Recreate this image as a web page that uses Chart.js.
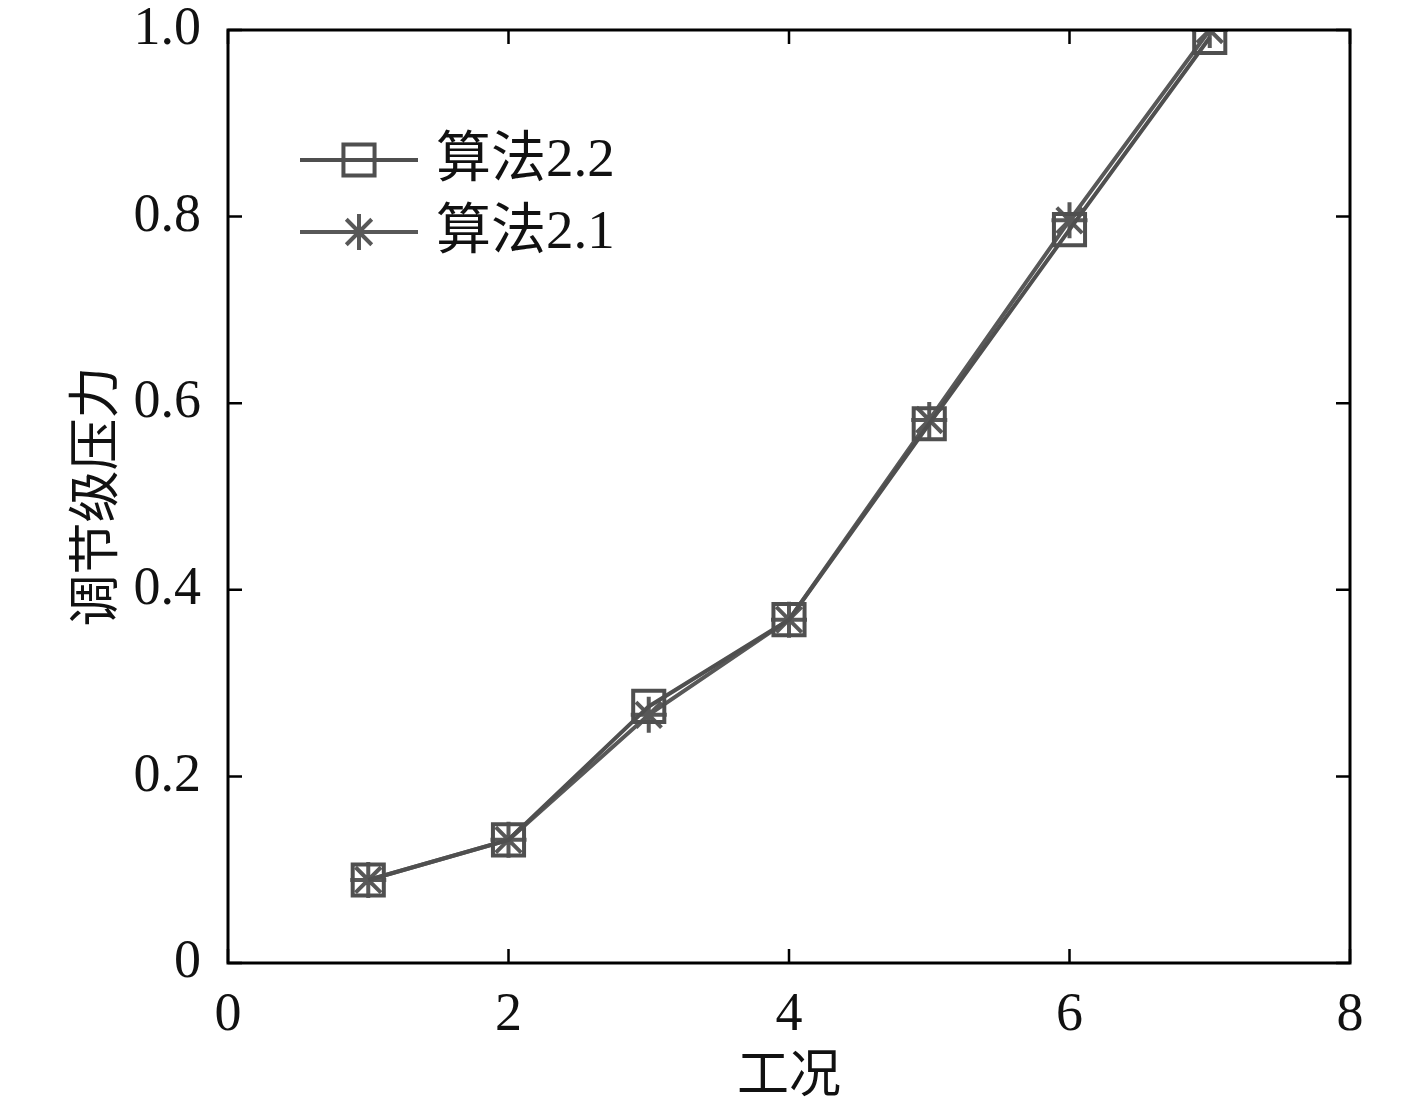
<!DOCTYPE html>
<html><head><meta charset="utf-8">
<script src="https://cdn.jsdelivr.net/npm/chart.js@4"></script>
<style>html,body{margin:0;padding:0;background:#fff}#wrap{width:1417px;height:1110px}</style>
</head><body><div id="wrap"><canvas id="c"></canvas></div>
<script>
const xValues = [1, 2, 3, 4, 5, 6, 7];
const alg22 = [0.089, 0.132, 0.275, 0.368, 0.578, 0.786, 0.992];
const alg21 = [0.089, 0.132, 0.266, 0.368, 0.582, 0.796, 1.0];
const seriesNames = ['算法2.2', '算法2.1'];
const xTicks = [0, 2, 4, 6, 8];
const yTicks = [0, 0.2, 0.4, 0.6, 0.8, 1.0];
const xTitle = '工况';
const yTitle = '调节级压力';

const FONT = '"Liberation Serif", "Noto Sans CJK SC", serif';
const GRAY = '#4f4f4f';

const frame = {
  id: 'frame',
  afterDraw(chart) {
    const {ctx, chartArea: a, scales: {x, y}} = chart;
    ctx.save();
    ctx.strokeStyle = '#000';
    ctx.lineWidth = 3;
    ctx.strokeRect(a.left, a.top, a.right - a.left, a.bottom - a.top);
    const L = 14;
    ctx.beginPath();
    xTicks.forEach(v => {
      const px = x.getPixelForValue(v);
      ctx.moveTo(px, a.bottom); ctx.lineTo(px, a.bottom - L);
      ctx.moveTo(px, a.top); ctx.lineTo(px, a.top + L);
    });
    yTicks.forEach(v => {
      const py = y.getPixelForValue(v);
      ctx.moveTo(a.left, py); ctx.lineTo(a.left + L, py);
      ctx.moveTo(a.right, py); ctx.lineTo(a.right - L, py);
    });
    ctx.lineWidth = 2.5;
    ctx.stroke();
    // legend
    const rows = [160, 232];
    chart.data.datasets.forEach((ds, i) => {
      const yy = rows[i];
      ctx.strokeStyle = ds.borderColor;
      ctx.lineWidth = ds.borderWidth;
      ctx.beginPath(); ctx.moveTo(300, yy); ctx.lineTo(418, yy); ctx.stroke();
      ctx.fillStyle = 'rgba(0,0,0,0)';
      ctx.strokeStyle = ds.pointBorderColor;
      ctx.lineWidth = ds.pointBorderWidth;
      Chart.helpers.drawPoint(ctx, {pointStyle: ds.pointStyle, radius: ds.pointRadius, borderWidth: ds.pointBorderWidth, rotation: 0}, 359, yy);
      ctx.fillStyle = '#111';
      ctx.font = '55px ' + FONT;
      ctx.textBaseline = 'middle';
      ctx.textAlign = 'left';
      ctx.fillText(ds.label, 436, yy + 2);
    });
    ctx.restore();
  }
};

new Chart(document.getElementById('c'), {
  type: 'line',
  data: {
    datasets: [
      {label: seriesNames[0], data: xValues.map((v, i) => ({x: v, y: alg22[i]})),
       borderColor: GRAY, borderWidth: 4, pointStyle: 'rect', pointRadius: 22,
       pointBorderWidth: 4, pointBorderColor: GRAY, pointBackgroundColor: 'rgba(0,0,0,0)', tension: 0},
      {label: seriesNames[1], data: xValues.map((v, i) => ({x: v, y: alg21[i]})),
       borderColor: '#585858', borderWidth: 4, pointStyle: 'star', pointRadius: 18,
       pointBorderWidth: 4, pointBorderColor: '#585858', pointBackgroundColor: 'rgba(0,0,0,0)', tension: 0}
    ]
  },
  options: {
    responsive: true, maintainAspectRatio: false, animation: false,
    layout: {padding: {top: 30, right: 67, left: 68, bottom: 0}},
    plugins: {legend: {display: false}, tooltip: {enabled: false}},
    scales: {
      x: {type: 'linear', min: 0, max: 8,
        afterBuildTicks: s => { s.ticks = xTicks.map(v => ({value: v})); },
        afterFit: s => { s.height = 147; s.paddingLeft = 0; s.paddingRight = 0; },
        grid: {display: false, drawTicks: false},
        border: {display: false},
        ticks: {color: '#111', font: {family: FONT, size: 54}, padding: 20, maxRotation: 0, callback: v => String(v)},
        title: {display: true, text: xTitle, color: '#111', font: {family: FONT, size: 52}, padding: {top: 0, bottom: 0}}
      },
      y: {min: 0, max: 1,
        afterBuildTicks: s => { s.ticks = yTicks.map(v => ({value: v})); },
        afterFit: s => { s.width = 160; s.paddingTop = 0; s.paddingBottom = 0; },
        grid: {display: false, drawTicks: false},
        border: {display: false},
        ticks: {color: '#111', font: {family: FONT, size: 54}, padding: 27, callback: v => v === 0 ? '0' : v.toFixed(1)},
        title: {display: true, text: yTitle, color: '#111', font: {family: FONT, size: 52}, padding: {top: 0, bottom: 0}}
      }
    }
  },
  plugins: [frame]
});
</script></body></html>
